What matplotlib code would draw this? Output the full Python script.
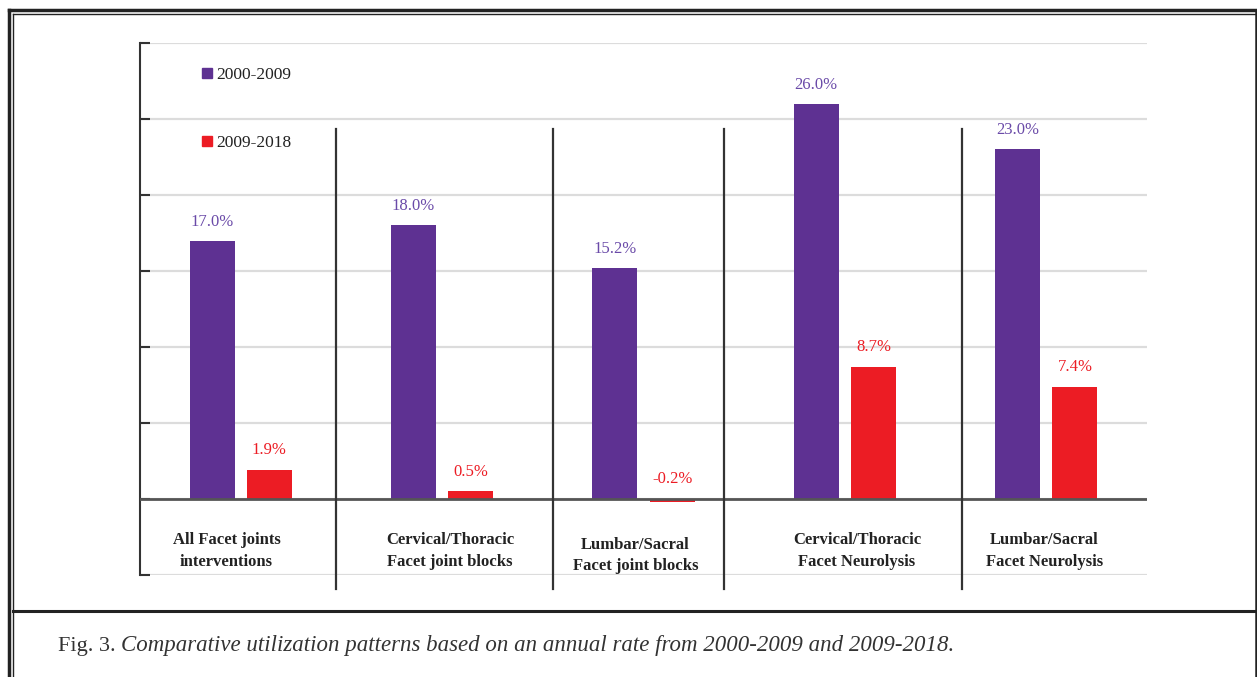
import matplotlib
matplotlib.use('Agg')
import matplotlib.pyplot as plt
from matplotlib.lines import Line2D
from matplotlib.patches import Patch

categories = ['All Facet joints\ninterventions',
              'Cervical/Thoracic\nFacet joint blocks',
              'Lumbar/Sacral\nFacet joint blocks',
              'Cervical/Thoracic\nFacet Neurolysis',
              'Lumbar/Sacral\nFacet Neurolysis']
rate_2000_2009 = [17.0, 18.0, 15.2, 26.0, 23.0]
rate_2009_2018 = [1.9, 0.5, -0.2, 8.7, 7.4]
series_names = ['2000-2009', '2009-2018']
y_ticks = [-5, 0, 5, 10, 15, 20, 25, 30]

purple = '#5e3192'
red = '#ec1c24'
serif = ['Liberation Serif', 'DejaVu Serif']

fig = plt.figure(figsize=(12.57, 6.77), dpi=100)
ax = fig.add_axes([140 / 1257, 102 / 677, 1007 / 1257, 532 / 677])

x = list(range(len(categories)))
w = 0.223
off = 0.142
ax.bar([i - off for i in x], rate_2000_2009, width=w, color=purple, zorder=3)
ax.bar([i + off for i in x], rate_2009_2018, width=w, color=red, zorder=3)

for i, v in enumerate(rate_2000_2009):
    ax.text(i - off, v + 1.25, f'{v:.1f}%', ha='center', va='center',
            color='#6a4aa8', fontsize=12, family=serif)
for i, v in enumerate(rate_2009_2018):
    ax.text(i + off, max(v, 0) + 1.3, f'{v:.1f}%', ha='center', va='center',
            color=red, fontsize=12, family=serif)

ax.set_xlim(-0.5, 4.5)
ax.set_ylim(-5, 30)
ax.set_yticks(y_ticks)
ax.set_yticklabels([])
ax.set_xticks([])
ax.grid(axis='y', color='#dcdcdc', linewidth=1.6, zorder=0)
ax.axhline(0, color='#555555', linewidth=2, zorder=4)
for s in ['top', 'right', 'bottom']:
    ax.spines[s].set_visible(False)
ax.spines['left'].set_color('#333333')
ax.spines['left'].set_linewidth(1.5)
ax.tick_params(axis='y', direction='in', length=7, width=1.5, color='#333333')

# group separators (hand placed in the original)
for sx in [0.473, 1.551, 2.40, 3.581]:
    ax.plot([sx, sx], [24.35, -5.9], color='#333333', linewidth=1.6,
            clip_on=False, zorder=5)

# category labels under the zero line
label_dx = [-0.07, 0.04, -0.04, 0.06, -0.01]
label_dy = [0, 0, -0.3, 0, 0]
for i, c in enumerate(categories):
    ax.text(i + label_dx[i], -3.42 + label_dy[i], c, ha='center', va='center',
            fontsize=12, fontweight='bold', family=serif, color='#222222',
            linespacing=1.45)

handles = [Patch(color=purple), Patch(color=red)]
leg = ax.legend(handles, series_names, loc='upper left', frameon=False,
                bbox_to_anchor=(0.062, 0.955), borderaxespad=0, borderpad=0,
                handlelength=0.55, handleheight=0.55, handletextpad=0.25,
                labelspacing=3.0, prop={'family': serif, 'size': 12.5})
for t in leg.get_texts():
    t.set_color('#222222')

# outer frame and caption box
H = 677.0
W = 1257.0
def fl(x0, y0, x1, y1, lw):
    fig.add_artist(Line2D([x0 / W, x1 / W], [1 - y0 / H, 1 - y1 / H],
                          color='#222222', linewidth=lw))
fl(9, 10, 1256, 10, 2.5)
fl(12.5, 13.5, 1256, 13.5, 1.0)
fl(9, 10, 9, 677, 2.5)
fl(12.5, 13.5, 12.5, 677, 1.0)
fl(1255.5, 10, 1255.5, 677, 1.8)
fl(12.5, 610.5, 1256, 610.5, 2.2)

fig.text(58 / W, 1 - 646 / H, 'Fig. 3.', fontsize=16, family=serif,
         color='#333333', va='center', ha='left')
fig.text(121 / W, 1 - 646 / H,
         'Comparative utilization patterns based on an annual rate from 2000-2009 and 2009-2018.',
         fontsize=16.5, family=serif, style='italic', color='#333333',
         va='center', ha='left')

fig.savefig('out.png', dpi=100)
